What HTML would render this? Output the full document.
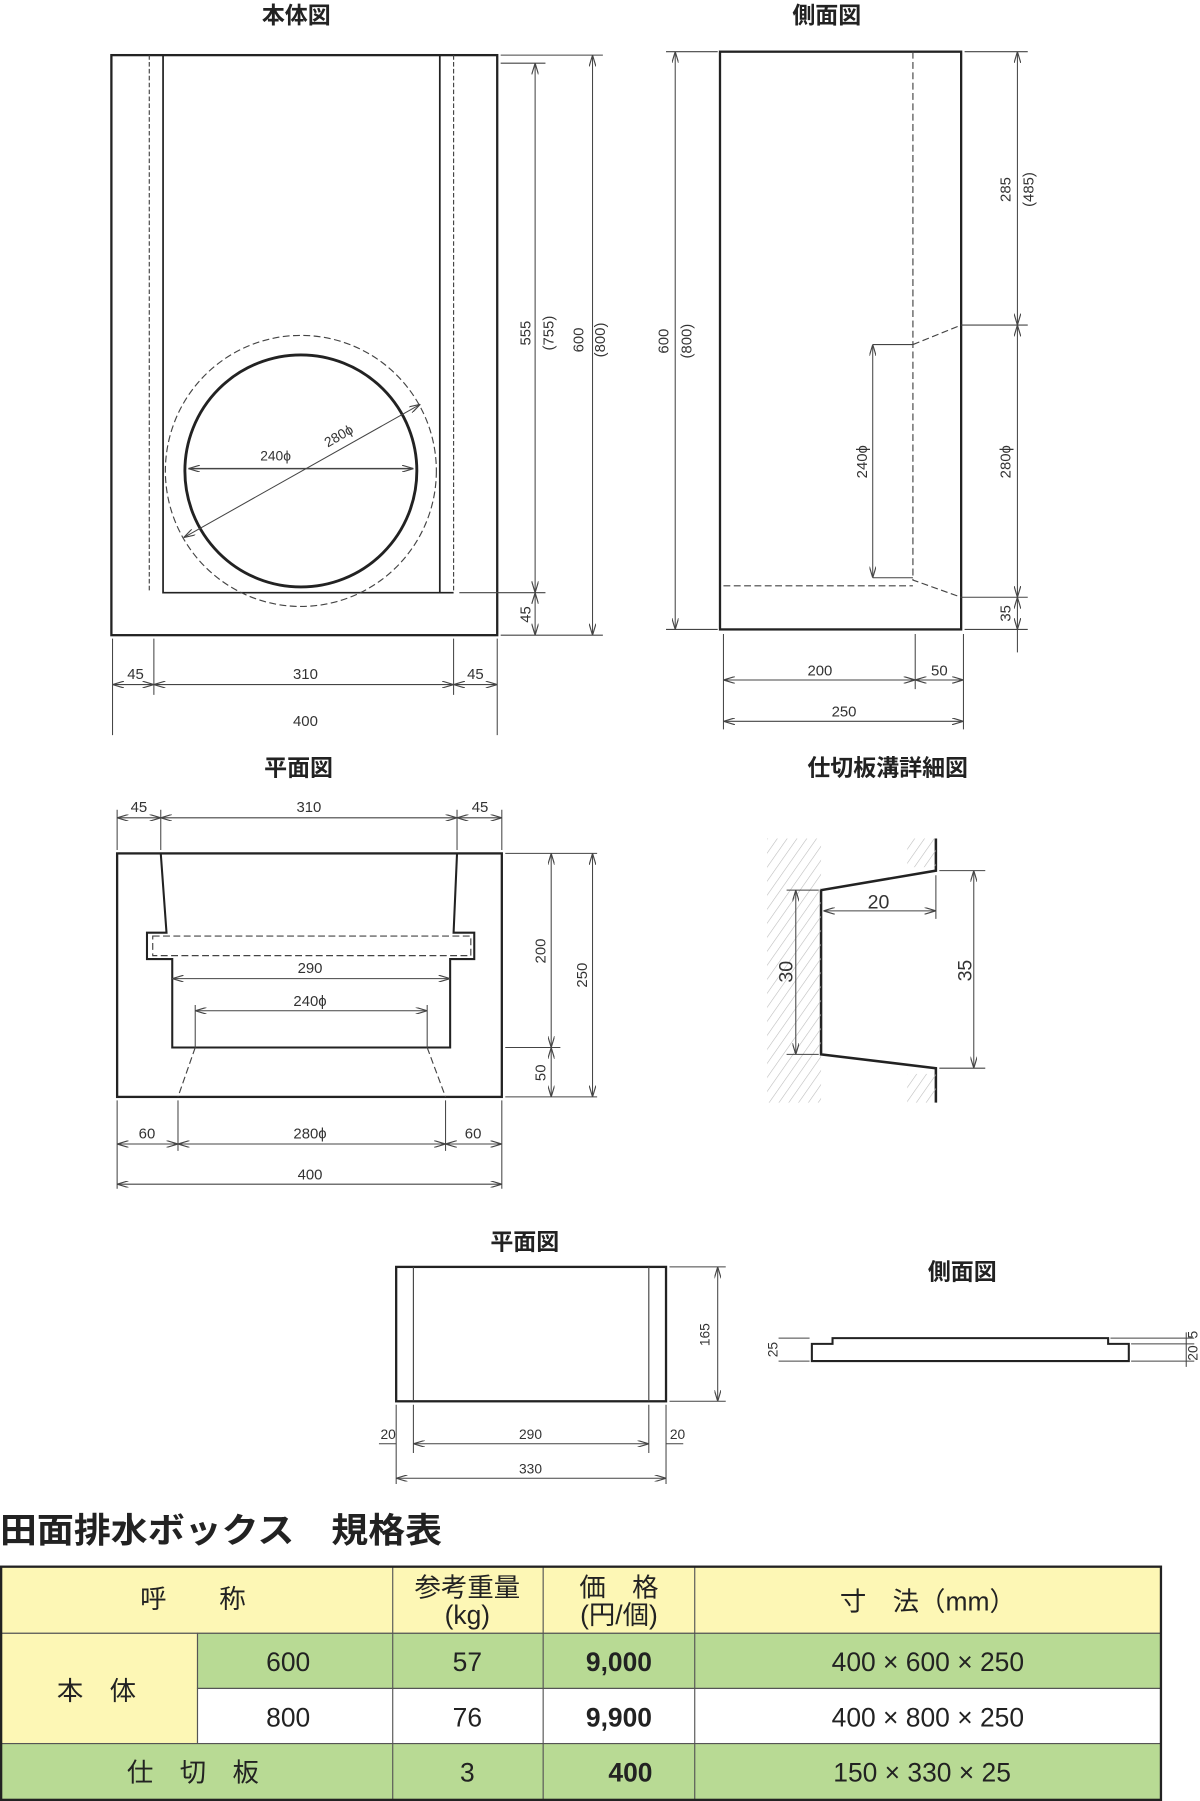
<!DOCTYPE html>
<html><head><meta charset="utf-8"><style>
html,body{margin:0;padding:0;background:#fff;}
svg{display:block;}
.t{font-family:"Liberation Sans","Noto Sans CJK JP",sans-serif;}
</style></head><body>
<svg width="1200" height="1801" viewBox="0 0 1045 1568" preserveAspectRatio="none" xmlns="http://www.w3.org/2000/svg">
<defs>
<pattern id="h" width="7" height="7" patternUnits="userSpaceOnUse" patternTransform="rotate(35)">
<line x1="0" y1="0" x2="0" y2="7" stroke="#bbb" stroke-width="1"/>
</pattern>
<marker id="a" viewBox="0 0 10 6" refX="10" refY="3" markerWidth="10" markerHeight="6" orient="auto-start-reverse" markerUnits="userSpaceOnUse">
<path d="M0,0 L10,3 L0,6" fill="none" stroke="#444" stroke-width="1"/>
</marker>
</defs>
<g class="t" font-weight="bold" font-size="20" fill="#222" text-anchor="middle">
<text x="258" y="20">本体図</text>
<text x="720" y="20">側面図</text>
<text x="260" y="675">平面図</text>
<text x="773" y="675">仕切板溝詳細図</text>
<text x="457" y="1088">平面図</text>
<text x="838" y="1114">側面図</text>
</g>

<g fill="none" stroke="#222" stroke-width="2">
<rect x="97" y="48" width="336" height="505"/>
<path d="M142 48 V516 H395 M383 48 V516" stroke-width="1.5"/>
<circle cx="262" cy="410" r="101" stroke-width="2.5"/>
<rect x="627" y="45" width="210" height="503"/>
<rect x="102" y="743" width="335" height="212"/>
<path d="M140 743 L145 812 H128 V835 H150 V912 H392 V835 H413 V812 H395 L398 743" stroke-width="1.8"/>
<path d="M815 730 V758 L715 775 V918 L815 930 V960" stroke-width="2.2"/>
<rect x="345" y="1103" width="235" height="117"/>
<path d="M707 1172 V1185 H983 V1170 H965 V1165 H725 V1170 H707 Z" stroke-width="1.8"/>
</g>
<g fill="none" stroke="#444" stroke-width="1">
<path d="M130 48 V516 M395 48 V516" stroke-dasharray="4,2"/>
<circle cx="262" cy="410" r="118" stroke-dasharray="6,3"/>
<path d="M795 45 V505 L837 520 M795 300 L837 283 M630 510 H795" stroke-dasharray="6,3"/>
<path d="M133 815 H410 V832 H133 Z M170 912 L155 955 M372 912 L388 955" stroke-dasharray="6,3"/>
<path d="M360 1103 V1220 M565 1103 V1220"/>
<rect x="668" y="730" width="47" height="230" fill="url(#h)" stroke="none"/>
<rect x="790" y="730" width="25" height="25" fill="url(#h)" stroke="none"/>
<rect x="790" y="935" width="25" height="25" fill="url(#h)" stroke="none"/>
</g>

<g stroke="#444" stroke-width="0.9" fill="none">
<line x1="164" y1="408" x2="360" y2="408" marker-start="url(#a)" marker-end="url(#a)" stroke-width="1.3"/>
<line x1="160" y1="468" x2="366" y2="352" marker-start="url(#a)" marker-end="url(#a)"/>
<path d="M436 55 H475 M400 516 H475 M436 553 H525 M436 48 H525"/>
<line x1="466" y1="55" x2="466" y2="516" marker-start="url(#a)" marker-end="url(#a)"/>
<line x1="466" y1="516" x2="466" y2="553" marker-start="url(#a)" marker-end="url(#a)"/>
<line x1="516" y1="48" x2="516" y2="553" marker-start="url(#a)" marker-end="url(#a)"/>
<path d="M98 556 V640 M134 556 V605 M395 556 V605 M433 556 V640"/>
<line x1="98" y1="596" x2="134" y2="596" marker-start="url(#a)" marker-end="url(#a)"/>
<line x1="134" y1="596" x2="395" y2="596" marker-start="url(#a)" marker-end="url(#a)"/>
<line x1="395" y1="596" x2="433" y2="596" marker-start="url(#a)" marker-end="url(#a)"/>
<path d="M580 45 H625 M580 548 H625 M840 45 H895 M837 283 H895 M837 520 H895 M840 548 H895 M760 300 H795 M760 503 H795"/>
<line x1="588" y1="45" x2="588" y2="548" marker-start="url(#a)" marker-end="url(#a)"/>
<line x1="886" y1="45" x2="886" y2="283" marker-start="url(#a)" marker-end="url(#a)"/>
<line x1="886" y1="283" x2="886" y2="520" marker-start="url(#a)" marker-end="url(#a)"/>
<line x1="886" y1="520" x2="886" y2="548" marker-start="url(#a)" marker-end="url(#a)"/>
<path d="M886 548 V568"/>
<line x1="760" y1="300" x2="760" y2="503" marker-start="url(#a)" marker-end="url(#a)"/>
<path d="M630 552 V635 M797 552 V600 M839 552 V635"/>
<line x1="630" y1="592" x2="797" y2="592" marker-start="url(#a)" marker-end="url(#a)"/>
<line x1="797" y1="592" x2="839" y2="592" marker-start="url(#a)" marker-end="url(#a)"/>
<line x1="630" y1="628" x2="839" y2="628" marker-start="url(#a)" marker-end="url(#a)"/>
<path d="M102 705 V740 M140 705 V740 M398 705 V740 M437 705 V740"/>
<line x1="102" y1="712" x2="140" y2="712" marker-start="url(#a)" marker-end="url(#a)"/>
<line x1="140" y1="712" x2="398" y2="712" marker-start="url(#a)" marker-end="url(#a)"/>
<line x1="398" y1="712" x2="437" y2="712" marker-start="url(#a)" marker-end="url(#a)"/>
<line x1="150" y1="852" x2="392" y2="852" marker-start="url(#a)" marker-end="url(#a)"/>
<path d="M170 875 V912 M372 875 V912"/>
<line x1="170" y1="880" x2="372" y2="880" marker-start="url(#a)" marker-end="url(#a)"/>
<path d="M440 743 H520 M440 912 H488 M440 955 H520"/>
<line x1="480" y1="743" x2="480" y2="912" marker-start="url(#a)" marker-end="url(#a)"/>
<line x1="480" y1="912" x2="480" y2="955" marker-start="url(#a)" marker-end="url(#a)"/>
<line x1="516" y1="743" x2="516" y2="955" marker-start="url(#a)" marker-end="url(#a)"/>
<path d="M102 958 V1035 M155 958 V1002 M388 958 V1002 M437 958 V1035"/>
<line x1="102" y1="996" x2="155" y2="996" marker-start="url(#a)" marker-end="url(#a)"/>
<line x1="155" y1="996" x2="388" y2="996" marker-start="url(#a)" marker-end="url(#a)"/>
<line x1="388" y1="996" x2="437" y2="996" marker-start="url(#a)" marker-end="url(#a)"/>
<line x1="102" y1="1031" x2="437" y2="1031" marker-start="url(#a)" marker-end="url(#a)"/>
<path d="M685 775 H713 M685 918 H713 M818 758 H858 M818 930 H858 M815 762 V800"/>
<line x1="693" y1="775" x2="693" y2="918" marker-start="url(#a)" marker-end="url(#a)"/>
<line x1="848" y1="758" x2="848" y2="930" marker-start="url(#a)" marker-end="url(#a)"/>
<line x1="717" y1="793" x2="815" y2="793" marker-start="url(#a)" marker-end="url(#a)"/>
<path d="M583 1103 H632 M583 1220 H632 M345 1223 V1292 M360 1223 V1265 M565 1223 V1265 M580 1223 V1292"/>
<line x1="625" y1="1103" x2="625" y2="1220" marker-start="url(#a)" marker-end="url(#a)"/>
<line x1="330" y1="1257" x2="345" y2="1257"/>
<line x1="360" y1="1257" x2="565" y2="1257" marker-start="url(#a)" marker-end="url(#a)"/>
<line x1="580" y1="1257" x2="595" y2="1257"/>
<line x1="345" y1="1287" x2="580" y2="1287" marker-start="url(#a)" marker-end="url(#a)"/>
<path d="M678 1165 H705 M678 1185 H705 M985 1170 H1040 M985 1185 H1040 M967 1165 H1040 M1033 1160 V1190"/>
</g>

<g class="t" font-size="13" fill="#333" text-anchor="middle">
<text x="240" y="401" font-size="12">240ϕ</text>
<text x="297" y="383" font-size="12" transform="rotate(-30 297 383)">280ϕ</text>
<text x="118" y="591">45</text><text x="266" y="591">310</text><text x="414" y="591">45</text>
<text x="266" y="632">400</text>
<text transform="translate(462 290) rotate(-90)">555</text>
<text transform="translate(482 290) rotate(-90)">(755)</text>
<text transform="translate(508 296) rotate(-90)">600</text>
<text transform="translate(527 296) rotate(-90)">(800)</text>
<text transform="translate(462 535) rotate(-90)">45</text>
<text transform="translate(582 297) rotate(-90)">600</text>
<text transform="translate(602 297) rotate(-90)">(800)</text>
<text transform="translate(880 165) rotate(-90)">285</text>
<text transform="translate(900 165) rotate(-90)">(485)</text>
<text transform="translate(880 402) rotate(-90)">280ϕ</text>
<text transform="translate(755 402) rotate(-90)">240ϕ</text>
<text transform="translate(880 534) rotate(-90)">35</text>
<text x="714" y="588">200</text><text x="818" y="588">50</text>
<text x="735" y="624">250</text>
<text x="121" y="707">45</text><text x="269" y="707">310</text><text x="418" y="707">45</text>
<text x="270" y="847">290</text><text x="270" y="876">240ϕ</text>
<text transform="translate(475 828) rotate(-90)">200</text>
<text transform="translate(475 934) rotate(-90)">50</text>
<text transform="translate(511 849) rotate(-90)">250</text>
<text x="128" y="991">60</text><text x="270" y="991">280ϕ</text><text x="412" y="991">60</text>
<text x="270" y="1027">400</text>
<text x="765" y="791" font-size="17">20</text>
<text transform="translate(690 846) rotate(-90)" font-size="17">30</text>
<text transform="translate(846 845) rotate(-90)" font-size="17">35</text>
<text transform="translate(618 1162) rotate(-90)" font-size="12">165</text>
<text x="338" y="1253" font-size="12">20</text><text x="462" y="1253" font-size="12">290</text><text x="590" y="1253" font-size="12">20</text>
<text x="462" y="1283" font-size="12">330</text>
<text transform="translate(677 1175) rotate(-90)" font-size="12">25</text>
<text transform="translate(1043 1178) rotate(-90)" font-size="12">20</text>
<text transform="translate(1043 1162) rotate(-90)" font-size="12">5</text>
</g>

<text class="t" x="0" y="1343" font-size="30" font-weight="bold" fill="#222" textLength="385" lengthAdjust="spacingAndGlyphs">田面排水ボックス　規格表</text>

<g stroke="#555" stroke-width="1">
<rect x="1" y="1364" width="1010" height="58" fill="#fdf7b5"/>
<rect x="1" y="1422" width="171" height="96" fill="#fdf7b5"/>
<rect x="172" y="1422" width="839" height="48" fill="#b8da94"/>
<rect x="172" y="1470" width="839" height="48" fill="#fff"/>
<rect x="1" y="1518" width="1010" height="49" fill="#b8da94"/>
<path d="M342 1364 V1567 M473 1364 V1567 M605 1364 V1567"/>
<rect x="1" y="1364" width="1010" height="203" fill="none" stroke="#222" stroke-width="2"/>
</g>
<g class="t" font-size="23" fill="#222" text-anchor="middle">
<text x="168" y="1400">呼　　称</text>
<text x="407" y="1390">参考重量</text><text x="407" y="1414">(kg)</text>
<text x="539" y="1390">価　格</text><text x="539" y="1414">(円/個)</text>
<text x="808" y="1402">寸　法（mm）</text>
<text x="84" y="1480">本　体</text>
<text x="251" y="1455">600</text><text x="251" y="1503">800</text>
<text x="407" y="1455">57</text><text x="407" y="1503">76</text>
<text x="539" y="1455" font-weight="bold">9,000</text><text x="539" y="1503" font-weight="bold">9,900</text>
<text x="808" y="1455">400 × 600 × 250</text><text x="808" y="1503">400 × 800 × 250</text>
<text x="168" y="1551">仕　切　板</text>
<text x="407" y="1551">3</text>
<text x="549" y="1551" font-weight="bold">400</text>
<text x="803" y="1551">150 × 330 × 25</text>
</g>
</svg>
</body></html>
